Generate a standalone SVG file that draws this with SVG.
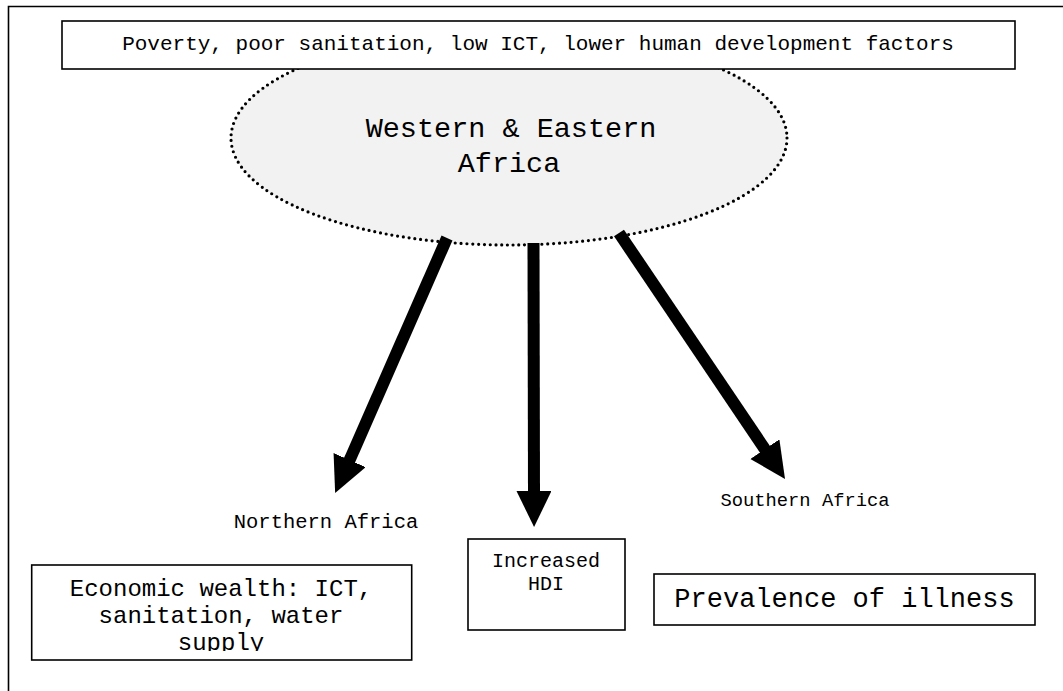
<svg xmlns="http://www.w3.org/2000/svg" width="1063" height="691" viewBox="0 0 1063 691">
  <style>
    text { font-family: "Liberation Mono", "Courier New", monospace; fill: #000; text-anchor: middle; }
    .box { fill: #fff; stroke: #000; stroke-width: 1.6; }
    .arrow { stroke: #000; stroke-width: 12; fill: none; marker-end: url(#head); }
  </style>
  <defs>
    <marker id="head" markerUnits="userSpaceOnUse" markerWidth="40" markerHeight="40" refX="2" refY="17.5" orient="auto">
      <path d="M0,0 L36,17.5 L0,35 z" fill="#000"/>
    </marker>
    <clipPath id="econClip">
      <rect x="31" y="565" width="381" height="86"/>
    </clipPath>
  </defs>

  <rect width="1063" height="691" fill="#fff"/>

  <!-- page frame -->
  <path d="M8.5,691 V6.5 H1063" fill="none" stroke="#000" stroke-width="1.6"/>

  <!-- central region -->
  <g id="node-west-east">
    <ellipse cx="509" cy="138" rx="278" ry="107" fill="#f2f2f2" stroke="#000" stroke-width="3.2" stroke-linecap="round" stroke-dasharray="0 5.8"/>
    <text x="511" y="137" font-size="28.5">Western &amp; Eastern</text>
    <text x="509" y="172" font-size="28.5">Africa</text>
  </g>

  <!-- factors banner -->
  <g id="node-factors">
    <rect class="box" x="62" y="21" width="953" height="48"/>
    <text x="538" y="50" font-size="21">Poverty, poor sanitation, low ICT, lower human development factors</text>
  </g>

  <!-- connectors -->
  <g id="connectors">
    <line class="arrow" x1="447" y1="238" x2="348.8" y2="461.9"/>
    <line class="arrow" x1="533.5" y1="243" x2="534" y2="493"/>
    <line class="arrow" x1="619" y1="233" x2="766" y2="450.8"/>
  </g>

  <g id="node-northern">
    <text x="326" y="528" font-size="20.5">Northern Africa</text>
  </g>

  <g id="node-southern">
    <text x="805" y="506" font-size="18.8">Southern Africa</text>
  </g>

  <g id="node-hdi">
    <rect class="box" x="468" y="539" width="157" height="91"/>
    <text x="546" y="567" font-size="20">Increased</text>
    <text x="546" y="590" font-size="20">HDI</text>
  </g>

  <g id="node-economic">
    <rect class="box" x="31.7" y="565" width="380" height="95"/>
    <g clip-path="url(#econClip)">
      <text x="221" y="596" font-size="24">Economic wealth: ICT,</text>
      <text x="221" y="623" font-size="24">sanitation, water</text>
      <text x="221" y="650" font-size="24">supply</text>
    </g>
  </g>

  <g id="node-illness">
    <rect class="box" x="654" y="574" width="381" height="51"/>
    <text x="844.5" y="607" font-size="27">Prevalence of illness</text>
  </g>
</svg>
